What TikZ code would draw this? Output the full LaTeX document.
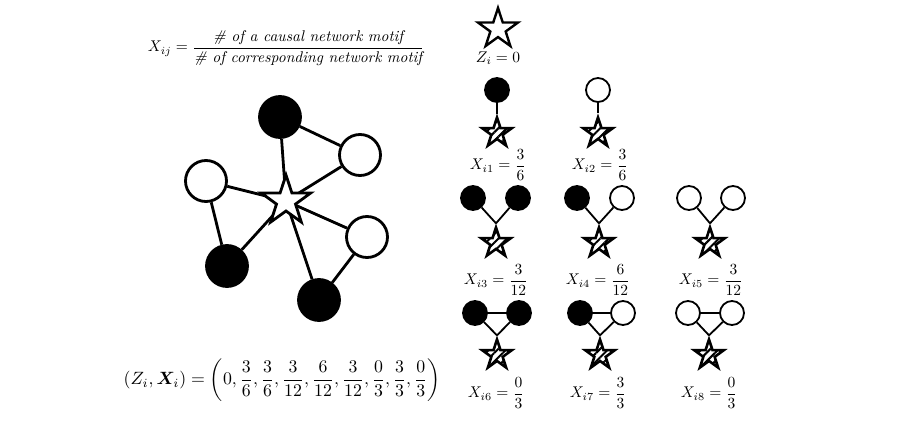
\documentclass[tikz,border=0pt]{standalone}
\usepackage{amsmath,bm,graphicx}
\usetikzlibrary{shapes.geometric,patterns.meta}
\tikzset{
  bigb/.style={circle,draw,line width=2.8pt,fill=black,minimum size=41pt,inner sep=0pt},
  bigw/.style={circle,draw,line width=2.8pt,fill=white,minimum size=41pt,inner sep=0pt},
  bedge/.style={line width=2.8pt},
  bigstar/.style={star,star points=5,star point ratio=2.6,draw,line width=2.8pt,fill=white,minimum size=52pt,inner sep=0pt},
  topstar/.style={star,star points=5,star point ratio=2.6,draw,line width=2.4pt,fill=white,minimum size=42pt,inner sep=0pt},
  smb/.style={circle,draw,line width=1.8pt,fill=black,minimum size=24pt,inner sep=0pt},
  smw/.style={circle,draw,line width=1.8pt,fill=white,minimum size=24pt,inner sep=0pt},
  sedge/.style={line width=1.8pt},
  smstar/.style={star,star points=5,star point ratio=2.6,draw,line width=2.6pt,preaction={fill=white},pattern={Lines[angle=45,distance=6pt,line width=2pt]},minimum size=31pt,inner sep=0pt},
  lab/.style={inner sep=0pt}
}
\newcommand{\lbl}[1]{\scalebox{1.55}{$#1$}}
\begin{document}
\begin{tikzpicture}[x=1pt,y=-1pt]
\useasboundingbox (0,0) rectangle (899,423);
% formula top
\node[lab] (ftop) at (286,48) {\scalebox{1.55}{$X_{ij}=\dfrac{\textit{\# of a causal network motif}}{\textit{\# of corresponding network motif}}$}};
% big graph
\node[bigb] (n1) at (280,117) {};
\node[bigw] (n2) at (360,155) {};
\node[bigw] (n3) at (206,181) {};
\node[bigw] (n4) at (367,237) {};
\node[bigb] (n5) at (227,266) {};
\node[bigb] (n6) at (319,300) {};
\coordinate (sc) at (286,201);
\draw[bedge] (n1) -- (sc);
\draw[bedge] (n2) -- (sc);
\draw[bedge] (n3) -- (sc);
\draw[bedge] (n4) -- (sc);
\draw[bedge] (n5) -- (sc);
\draw[bedge] (n6) -- (sc);
\draw[bedge] (n1) -- (n2);
\draw[bedge] (n3) -- (n5);
\draw[bedge] (n4) -- (n6);
\node[bigstar] (s0) at (sc) {};
% bottom formula
\node[lab] (fbot) at (282,380) {\scalebox{1.78}{$(Z_i,\bm{X}_i)=\biggl(0,\dfrac{3}{6},\dfrac{3}{6},\dfrac{3}{12},\dfrac{6}{12},\dfrac{3}{12},\dfrac{0}{3},\dfrac{3}{3},\dfrac{0}{3}\biggr)$}};
% top star
\node[topstar] (zs) at (498,29) {};
\node[lab] (zl) at (498,58) {\lbl{Z_i=0}};
% motif 1
\node[smb] (a1) at (497,90) {};
\node[smstar] (as) at (497,133) {};
\draw[sedge] (a1) -- (as.outer point 1);
\node[lab] (al) at (498,165) {\lbl{X_{i1}=\dfrac{3}{6}}};
% motif 2
\node[smw] (b1) at (598,90) {};
\node[smstar] (bs) at (598,133) {};
\draw[sedge] (b1) -- (bs.outer point 1);
\node[lab] (bl) at (600,165) {\lbl{X_{i2}=\dfrac{3}{6}}};
% motif 3
\node[smb] (c1) at (473,198) {};
\node[smb] (c2) at (518,198) {};
\node[smstar] (cs) at (496,243) {};
\draw[sedge] (c1) -- (cs.outer point 1);
\draw[sedge] (c2) -- (cs.outer point 1);
\node[lab] (cl) at (496,280) {\lbl{X_{i3}=\dfrac{3}{12}}};
% motif 4
\node[smb] (d1) at (577,198) {};
\node[smw] (d2) at (622,198) {};
\node[smstar] (ds) at (599,243) {};
\draw[sedge] (d1) -- (ds.outer point 1);
\draw[sedge] (d2) -- (ds.outer point 1);
\node[lab] (dl) at (598,280) {\lbl{X_{i4}=\dfrac{6}{12}}};
% motif 5
\node[smw] (e1) at (689,198) {};
\node[smw] (e2) at (733,198) {};
\node[smstar] (es) at (710,243) {};
\draw[sedge] (e1) -- (es.outer point 1);
\draw[sedge] (e2) -- (es.outer point 1);
\node[lab] (el) at (711,280) {\lbl{X_{i5}=\dfrac{3}{12}}};
% motif 6
\node[smb] (f1) at (475,313) {};
\node[smb] (f2) at (519,313) {};
\node[smstar] (fs) at (497,355) {};
\draw[sedge] (f1) -- (f2);
\draw[sedge] (f1) -- (fs.outer point 1);
\draw[sedge] (f2) -- (fs.outer point 1);
\node[lab] (fl) at (496,393) {\lbl{X_{i6}=\dfrac{0}{3}}};
% motif 7
\node[smb] (g1) at (580,313) {};
\node[smw] (g2) at (623,313) {};
\node[smstar] (gs) at (600,355) {};
\draw[sedge] (g1) -- (g2);
\draw[sedge] (g1) -- (gs.outer point 1);
\draw[sedge] (g2) -- (gs.outer point 1);
\node[lab] (gl) at (598,393) {\lbl{X_{i7}=\dfrac{3}{3}}};
% motif 8
\node[smw] (h1) at (688,313) {};
\node[smw] (h2) at (732,313) {};
\node[smstar] (hs) at (709,355) {};
\draw[sedge] (h1) -- (h2);
\draw[sedge] (h1) -- (hs.outer point 1);
\draw[sedge] (h2) -- (hs.outer point 1);
\node[lab] (hl) at (709,393) {\lbl{X_{i8}=\dfrac{0}{3}}};
\end{tikzpicture}
\end{document}
